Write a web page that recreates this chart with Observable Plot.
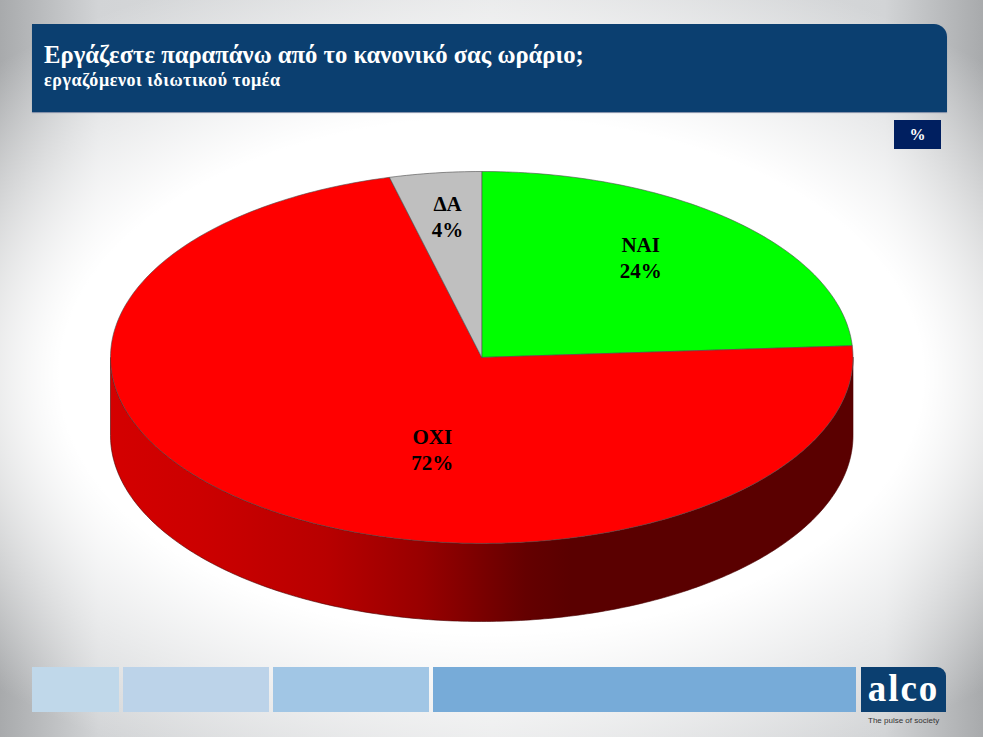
<!DOCTYPE html>
<html lang="el">
<head>
<meta charset="utf-8">
<title>Εργάζεστε παραπάνω από το κανονικό σας ωράριο;</title>
<script src="https://cdn.jsdelivr.net/npm/d3@7"></script>
<script src="https://cdn.jsdelivr.net/npm/@observablehq/plot@0.6"></script>
<style>
  html, body { margin: 0; padding: 0; }
  #slide {
    position: relative; width: 983px; height: 737px; overflow: hidden;
    font-family: "Liberation Serif", serif;
    background:
      radial-gradient(ellipse 720px 430px at 50% 51%, rgba(255,255,255,1) 60%, rgba(255,255,255,0) 100%),
      linear-gradient(90deg, #a8aaac 0%, #d2d4d6 10%, #e2e3e4 50%, #d2d4d6 90%, #a8aaac 100%);
  }
  #slide > * { position: absolute; }
  #banner {
    left: 32px; top: 24px; width: 915px; height: 88px; background: #0b3f70;
    border-top-right-radius: 13px; box-shadow: 0 1px 1px #7d8aa5; color: #fff; font-weight: bold;
  }
  #banner h1 { position: absolute; left: 12px; top: 18px; margin: 0; font-size: 24.66px; line-height: 26px; white-space: nowrap; }
  #banner h2 { position: absolute; left: 12px; top: 46px; margin: 0; font-size: 18px; letter-spacing: 0.55px; line-height: 20px; white-space: nowrap; }
  #unit {
    left: 894px; top: 120px; width: 47px; height: 29px; background: #001f60; color: #fff;
    font-weight: bold; font-size: 16px; line-height: 29px; text-align: center;
  }
  .band { top: 667px; height: 45px; }
  #logo {
    left: 861px; top: 667px; width: 85px; height: 45px; background: #0b3f70; border-top-right-radius: 9px;
    color: #fff; font-weight: bold; font-size: 37px; line-height: 43px; text-align: center; letter-spacing: 2px;
  }
  #tag { left: 868px; top: 715px; font: 8px/11px "Liberation Sans", sans-serif; color: #333; white-space: nowrap; }
  #chart { left: 0; top: 0; }
</style>
</head>
<body>
<div id="slide">
  <div id="banner">
    <h1>Εργάζεστε παραπάνω από το κανονικό σας ωράριο;</h1>
    <h2>εργαζόμενοι ιδιωτικού τομέα</h2>
  </div>
  <div id="unit">%</div>
  <div class="band" style="left:32px;width:87px;background:#c0d8ea"></div>
  <div class="band" style="left:123px;width:146px;background:#bcd3e9"></div>
  <div class="band" style="left:273px;width:156px;background:#a1c6e5"></div>
  <div class="band" style="left:433px;width:423px;background:#77abd8"></div>
  <div id="logo">alco</div>
  <div id="tag">The pulse of society</div>
  <div id="chart"></div>
</div>
<script>
const categories = ["ΝΑΙ", "ΟΧΙ", "ΔΑ"];
const shares = [24, 72, 4];
const colors = ["#00ff00", "#ff0000", "#bfbfbf"];

// Label anchors in pie units (ellipse radius = 1).
const labelX = [0.428, -0.133, -0.092];
const labelY = [0.535, -0.50, 0.755];

const thickness = 0.42;          // wall height in pie units
const total = d3.sum(shares);
const point = (t, dy = 0) => ({x: Math.sin(t), y: Math.cos(t) - dy});

// One closed outline per slice, cumulated clockwise from 12 o'clock.
let start = 0;
const sliceOutlines = [];
categories.forEach((name, i) => {
  const a0 = start / total * 2 * Math.PI;
  const a1 = (start + shares[i]) / total * 2 * Math.PI;
  start += shares[i];
  const steps = Math.max(8, Math.ceil((a1 - a0) * 60));
  sliceOutlines.push({name, x: 0, y: 0});
  for (let k = 0; k <= steps; k++) sliceOutlines.push({name, ...point(a0 + (a1 - a0) * k / steps)});
  sliceOutlines.push({name, x: 0, y: 0});
});

// Front wall: the lower half of the rim and the same arc shifted down.
const wall = [];
const rimSteps = 240;
for (let k = 0; k <= rimSteps; k++) wall.push(point(Math.PI / 2 + Math.PI * k / rimSteps));
for (let k = rimSteps; k >= 0; k--) wall.push(point(Math.PI / 2 + Math.PI * k / rimSteps, thickness));
wall.push(wall[0]);

const nameLabels = categories.map((name, i) => ({text: name, x: labelX[i], y: labelY[i]}));
const valueLabels = categories.map((name, i) => ({text: shares[i] + "%", x: labelX[i], y: labelY[i]}));
const labelStyle = {
  x: "x", y: "y", text: "text", fill: "#000",
  fontFamily: "Liberation Serif", fontWeight: "bold", fontSize: 21
};

const wallGradient = () => {
  const svg = d3.create("svg:defs");
  const g = svg.append("linearGradient").attr("id", "wallShade");
  [[0, "#d40000"], [0.12, "#cc0000"], [0.29, "#b80000"], [0.42, "#980000"],
   [0.51, "#760000"], [0.56, "#640000"], [0.62, "#5a0000"], [1, "#5a0000"]]
    .forEach(([o, c]) => g.append("stop").attr("offset", o).attr("stop-color", c));
  return svg.node();
};

const plot = Plot.plot({
  width: 983,
  height: 737,
  marginLeft: 110,
  marginRight: 130.5,
  marginTop: 171,
  marginBottom: 116,
  style: {background: "transparent"},
  x: {domain: [-1, 1], axis: null},
  y: {domain: [-1 - thickness, 1], axis: null},
  color: {domain: categories, range: colors},
  marks: [
    wallGradient,
    Plot.line(wall, {x: "x", y: "y", fill: "url(#wallShade)", stroke: "#4a0000", strokeWidth: 0.6}),
    Plot.line(sliceOutlines, {x: "x", y: "y", z: "name", fill: "name", stroke: "#4d4d4d", strokeWidth: 0.6}),
    Plot.text(nameLabels, {...labelStyle, dy: -13}),
    Plot.text(valueLabels, {...labelStyle, dy: 13})
  ]
});
document.getElementById("chart").append(plot);
</script>
</body>
</html>
